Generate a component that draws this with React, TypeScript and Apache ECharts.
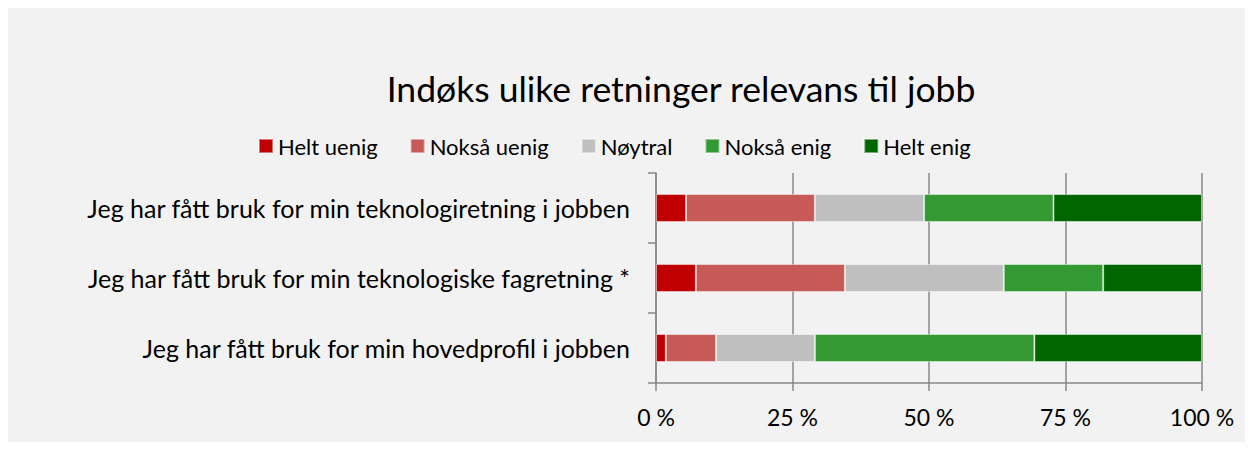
import React, { useEffect, useRef } from "react";
import * as echarts from "echarts";

const titleText = "Indøks ulike retninger relevans til jobb";
const categories = [
  "Jeg har fått bruk for min teknologiretning i jobben",
  "Jeg har fått bruk for min teknologiske fagretning *",
  "Jeg har fått bruk for min hovedprofil i jobben",
];
const seriesNames = ["Helt uenig", "Nokså uenig", "Nøytral", "Nokså enig", "Helt enig"];
const heltUenig = [5.5, 7.3, 1.8];
const noksaUenig = [23.6, 27.3, 9.2];
const noytral = [20.0, 29.1, 18.1];
const noksaEnig = [23.7, 18.2, 40.2];
const heltEnig = [27.2, 18.1, 30.7];
const seriesValues = [heltUenig, noksaUenig, noytral, noksaEnig, heltEnig];
const colors = ["#C00000", "#C75956", "#BFBFBF", "#339933", "#006600"];
const xTicks = [0, 25, 50, 75, 100];

const FONT = "Lato, 'Open Sans', sans-serif";

export default function App() {
  const ref = useRef<HTMLDivElement>(null);
  useEffect(() => {
    if (!ref.current) return;
    const chart = echarts.init(ref.current, undefined, { renderer: "svg" });
    chart.setOption({
      animation: false,
      backgroundColor: "#F2F2F2",
      textStyle: { fontFamily: FONT },
      title: {
        text: titleText,
        left: 668,
        textAlign: "center",
        top: 57,
        textStyle: { fontFamily: FONT, fontSize: 35.5, fontWeight: "normal", color: "#000" },
      },
      legend: {
        data: seriesNames,
        left: 245,
        top: 122,
        icon: "rect",
        itemWidth: 14,
        itemHeight: 14,
        itemGap: 32,
        textStyle: { fontFamily: FONT, fontSize: 22, color: "#000" },
      },
      grid: { left: 648, right: 46, top: 165, bottom: 59 },
      xAxis: {
        type: "value",
        min: xTicks[0],
        max: xTicks[xTicks.length - 1],
        interval: 25,
        axisLine: { show: true, lineStyle: { color: "#888888", width: 1.5 } },
        axisTick: { show: true, length: 8, lineStyle: { color: "#888888", width: 1.5 } },
        splitLine: { show: true, lineStyle: { color: "#888888", width: 1.5 } },
        axisLabel: {
          formatter: "{value} %",
          margin: 22,
          fontFamily: FONT,
          fontSize: 23,
          color: "#000",
        },
      },
      yAxis: {
        type: "category",
        data: categories,
        inverse: true,
        axisLine: { show: true, lineStyle: { color: "#888888", width: 1.5 } },
        axisTick: { show: true, length: 8, lineStyle: { color: "#888888", width: 1.5 } },
        axisLabel: { margin: 26, fontFamily: FONT, fontSize: 25, color: "#000" },
      },
      series: seriesNames.map((name, i) => ({
        name,
        type: "bar",
        stack: "total",
        barWidth: 28,
        data: seriesValues[i],
        itemStyle: { color: colors[i], borderColor: "rgba(255,255,255,0.45)", borderWidth: 1 },
      })),
    });
    return () => chart.dispose();
  }, []);
  return <div ref={ref} style={{ width: 1240, height: 434 }} />;
}
